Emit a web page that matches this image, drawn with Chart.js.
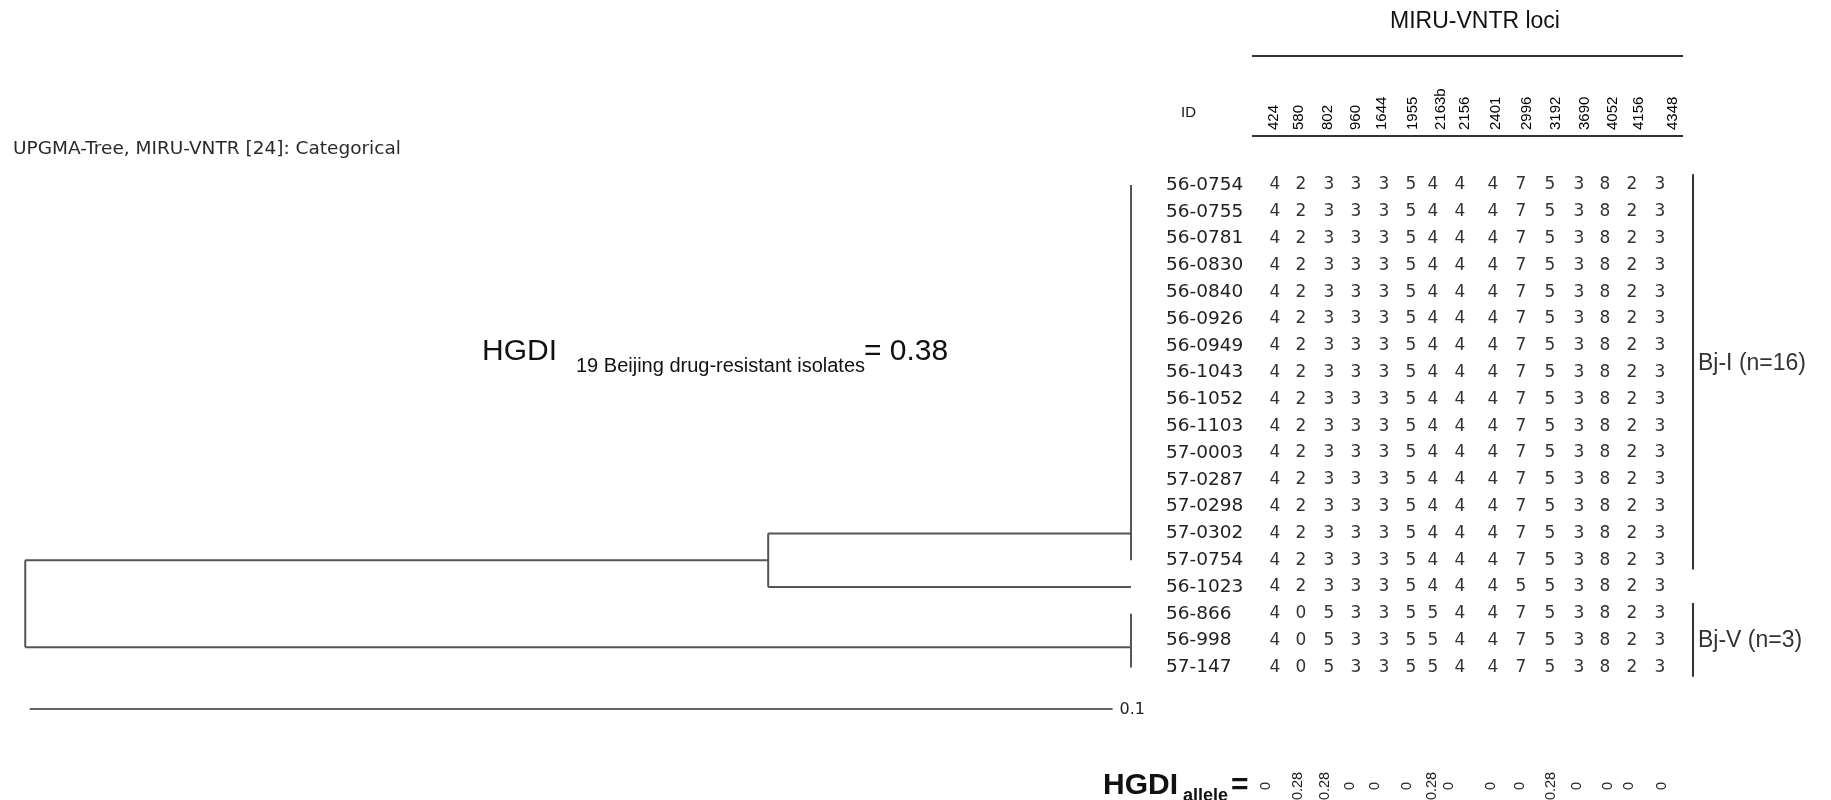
<!DOCTYPE html>
<html>
<head>
<meta charset="utf-8">
<title>UPGMA-Tree, MIRU-VNTR</title>
<script src="https://cdn.jsdelivr.net/npm/chart.js@4/dist/chart.umd.min.js"></script>
<style>
  html, body { margin: 0; padding: 0; background: #fff; }
</style>
</head>
<body>
<canvas id="myChart" width="1831" height="800"></canvas>
<script>
/* Dendrogram + MIRU-VNTR table */

const loci = ['424', '580', '802', '960', '1644', '1955', '2163b', '2156',
  '2401', '2996', '3192', '3690', '4052', '4156', '4348'];

const isolateIds = ['56-0754', '56-0755', '56-0781', '56-0830', '56-0840',
  '56-0926', '56-0949', '56-1043', '56-1052', '56-1103', '57-0003', '57-0287',
  '57-0298', '57-0302', '57-0754', '56-1023', '56-866', '56-998', '57-147'];

const alleleProfiles = [
  [4, 2, 3, 3, 3, 5, 4, 4, 4, 7, 5, 3, 8, 2, 3],
  [4, 2, 3, 3, 3, 5, 4, 4, 4, 7, 5, 3, 8, 2, 3],
  [4, 2, 3, 3, 3, 5, 4, 4, 4, 7, 5, 3, 8, 2, 3],
  [4, 2, 3, 3, 3, 5, 4, 4, 4, 7, 5, 3, 8, 2, 3],
  [4, 2, 3, 3, 3, 5, 4, 4, 4, 7, 5, 3, 8, 2, 3],
  [4, 2, 3, 3, 3, 5, 4, 4, 4, 7, 5, 3, 8, 2, 3],
  [4, 2, 3, 3, 3, 5, 4, 4, 4, 7, 5, 3, 8, 2, 3],
  [4, 2, 3, 3, 3, 5, 4, 4, 4, 7, 5, 3, 8, 2, 3],
  [4, 2, 3, 3, 3, 5, 4, 4, 4, 7, 5, 3, 8, 2, 3],
  [4, 2, 3, 3, 3, 5, 4, 4, 4, 7, 5, 3, 8, 2, 3],
  [4, 2, 3, 3, 3, 5, 4, 4, 4, 7, 5, 3, 8, 2, 3],
  [4, 2, 3, 3, 3, 5, 4, 4, 4, 7, 5, 3, 8, 2, 3],
  [4, 2, 3, 3, 3, 5, 4, 4, 4, 7, 5, 3, 8, 2, 3],
  [4, 2, 3, 3, 3, 5, 4, 4, 4, 7, 5, 3, 8, 2, 3],
  [4, 2, 3, 3, 3, 5, 4, 4, 4, 7, 5, 3, 8, 2, 3],
  [4, 2, 3, 3, 3, 5, 4, 4, 4, 5, 5, 3, 8, 2, 3],
  [4, 0, 5, 3, 3, 5, 5, 4, 4, 7, 5, 3, 8, 2, 3],
  [4, 0, 5, 3, 3, 5, 5, 4, 4, 7, 5, 3, 8, 2, 3],
  [4, 0, 5, 3, 3, 5, 5, 4, 4, 7, 5, 3, 8, 2, 3],
];

const hgdiAllele = ['0', '0.28', '0.28', '0', '0', '0', '0.28', '0',
  '0', '0', '0.28', '0', '0', '0', '0'];

// tree (heights in distance units, positions in row units)
const clusterNames = ['Bj-I (n=16)', 'Bj-V (n=3)'];
const clusterTop = [0, 16];
const clusterBottom = [14, 18];
const clusterStem = [13, 17.25];
const outlierRow = 15;          // 56-1023
const innerHeight = 0.0335;
const rootHeight = 0.1021;
const scaleBarStart = 0.1017;
const scaleBarLength = 0.1;
const scaleBarRow = 19.55;

// layout
const PX_PER_UNIT = 10830;
const LEAF_PX = 1131;
const ROW0_PX = 185;
const ROW_PITCH = 26.8;
const colX = [1275, 1301, 1329, 1356, 1384, 1411, 1433, 1460, 1493, 1521, 1550, 1579, 1605, 1632, 1660];
const headX = [1274, 1299, 1328, 1356, 1382, 1413, 1441, 1465, 1496, 1527, 1556, 1585, 1613, 1639, 1673];
const hgdiX = [1266, 1298, 1325, 1350, 1375, 1407, 1432, 1449, 1491, 1520, 1551, 1577, 1608, 1629, 1662];
const clusterLabelRow = [6.65, 17];

function init() {
  const innerRow = (clusterStem[0] + outlierRow) / 2;

  // tree segments
  const segs = [];
  for (let c = 0; c < clusterNames.length; c++) {
    segs.push([[0, clusterTop[c]], [0, clusterBottom[c]]]);
  }
  segs.push([[innerHeight, clusterStem[0]], [innerHeight, outlierRow]]);
  segs.push([[innerHeight, clusterStem[0]], [0, clusterStem[0]]]);
  segs.push([[innerHeight, outlierRow], [0, outlierRow]]);
  segs.push([[rootHeight, innerRow], [rootHeight, clusterStem[1]]]);
  segs.push([[rootHeight, innerRow], [innerHeight, innerRow]]);
  segs.push([[rootHeight, clusterStem[1]], [0, clusterStem[1]]]);

  const datasets = segs.map(function (s) {
    return {
      data: s.map(function (p) { return { x: p[0], y: p[1] }; }),
      showLine: true,
      borderColor: '#555',
      borderWidth: 2,
      pointRadius: 0,
    };
  });
  datasets.push({
    data: [{ x: scaleBarStart, y: scaleBarRow }, { x: scaleBarStart - scaleBarLength, y: scaleBarRow }],
    showLine: true,
    borderColor: '#666',
    borderWidth: 2,
    pointRadius: 0,
  });

  const xMax = LEAF_PX / PX_PER_UNIT;
  const xMin = xMax - 1831 / PX_PER_UNIT;
  const yMin = -ROW0_PX / ROW_PITCH;
  const yMax = yMin + 800 / ROW_PITCH;

  const textPlugin = {
    id: 'textPlugin',
    afterDatasetsDraw(chart) {
      const ctx = chart.ctx;
      const ys = chart.scales.y;
      const xs = chart.scales.x;
      ctx.save();

      // title
      ctx.fillStyle = '#2a2a2a';
      ctx.font = '18.5px "DejaVu Sans"';
      ctx.textAlign = 'left';
      ctx.textBaseline = 'middle';
      ctx.fillText('UPGMA-Tree, MIRU-VNTR [24]: Categorical', 13, 149);

      // HGDI of the set
      ctx.fillStyle = '#111';
      ctx.textBaseline = 'alphabetic';
      ctx.font = '30px "Liberation Sans", Arial';
      ctx.fillText('HGDI', 482, 360);
      ctx.font = '20px "Liberation Sans", Arial';
      ctx.fillText('19 Beijing drug-resistant isolates', 576, 372);
      ctx.font = '30px "Liberation Sans", Arial';
      ctx.fillText('= 0.38', 864, 360);

      // scale bar label
      ctx.fillStyle = '#222';
      ctx.font = '16px "DejaVu Sans"';
      ctx.textBaseline = 'middle';
      ctx.fillText(scaleBarLength.toString(), xs.getPixelForValue(scaleBarStart - scaleBarLength) + 7, ys.getPixelForValue(scaleBarRow) + 1);

      // header
      ctx.fillStyle = '#111';
      ctx.font = '23px "Liberation Sans", Arial';
      ctx.textAlign = 'center';
      ctx.fillText('MIRU-VNTR loci', 1475, 22);
      ctx.strokeStyle = '#333';
      ctx.lineWidth = 2;
      ctx.beginPath();
      ctx.moveTo(1252, 56); ctx.lineTo(1683, 56);
      ctx.moveTo(1252, 136); ctx.lineTo(1683, 136);
      ctx.stroke();
      ctx.font = '15px "Liberation Sans", Arial';
      ctx.textAlign = 'left';
      ctx.fillText('ID', 1181, 113);
      ctx.fillStyle = '#000';
      ctx.font = '15px "Liberation Sans", Arial';
      loci.forEach(function (l, j) {
        ctx.save();
        ctx.translate(headX[j], 130);
        ctx.rotate(-Math.PI / 2);
        ctx.textAlign = 'left';
        ctx.textBaseline = 'middle';
        ctx.fillText(l, 0, 0);
        ctx.restore();
      });

      // rows
      isolateIds.forEach(function (id, i) {
        const y = ys.getPixelForValue(i);
        ctx.fillStyle = '#222';
        ctx.font = '18.5px "DejaVu Sans"';
        ctx.textAlign = 'left';
        ctx.fillText(id, 1166, y);
        ctx.fillStyle = '#333';
        ctx.font = '17px "DejaVu Sans"';
        ctx.textAlign = 'center';
        alleleProfiles[i].forEach(function (v, j) {
          ctx.fillText(String(v), colX[j], y);
        });
      });

      // cluster brackets
      ctx.strokeStyle = '#333';
      ctx.lineWidth = 2;
      clusterNames.forEach(function (name, c) {
        ctx.beginPath();
        ctx.moveTo(1693, ys.getPixelForValue(clusterTop[c] - 0.4));
        ctx.lineTo(1693, ys.getPixelForValue(clusterBottom[c] + 0.35));
        ctx.stroke();
        ctx.fillStyle = '#333';
        ctx.font = '23px "Liberation Sans", Arial';
        ctx.textAlign = 'left';
        ctx.fillText(name, 1698, ys.getPixelForValue(clusterLabelRow[c]));
      });

      // HGDI allele row
      ctx.fillStyle = '#111';
      ctx.textBaseline = 'alphabetic';
      ctx.font = 'bold 30px "Liberation Sans", Arial';
      ctx.fillText('HGDI', 1103, 794);
      ctx.font = 'bold 18px "Liberation Sans", Arial';
      ctx.fillText('allele', 1183, 801);
      ctx.font = 'bold 30px "Liberation Sans", Arial';
      ctx.fillText('=', 1231, 794);
      ctx.fillStyle = '#222';
      ctx.font = '14.5px "Liberation Sans", Arial';
      hgdiAllele.forEach(function (v, j) {
        ctx.save();
        ctx.translate(hgdiX[j], 786);
        ctx.rotate(-Math.PI / 2);
        ctx.textAlign = 'center';
        ctx.textBaseline = 'middle';
        ctx.fillText(v, 0, 0);
        ctx.restore();
      });

      ctx.restore();
    }
  };

  new Chart(document.getElementById('myChart'), {
    type: 'scatter',
    data: { datasets: datasets },
    options: {
      responsive: false,
      animation: false,
      layout: { padding: 0 },
      plugins: { legend: { display: false }, tooltip: { enabled: false } },
      scales: {
        x: { type: 'linear', display: false, min: xMin, max: xMax, reverse: true },
        y: { type: 'linear', display: false, min: yMin, max: yMax, reverse: true },
      },
    },
    plugins: [textPlugin],
  });
}

document.addEventListener("DOMContentLoaded", init, false);
</script>
</body>
</html>
